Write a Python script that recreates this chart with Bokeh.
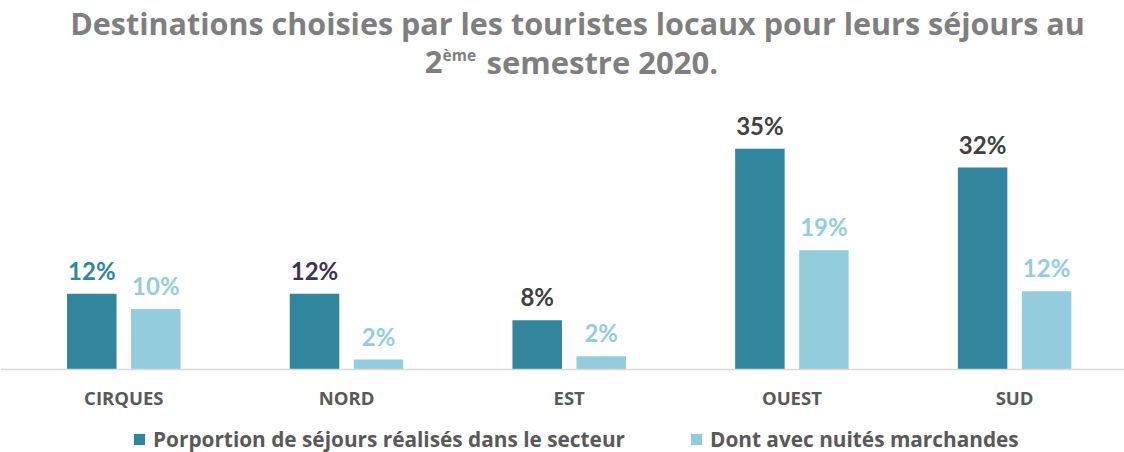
import numpy as np
from bokeh.plotting import figure
from bokeh.models import (Range1d, FixedTicker, Label, Legend, LegendItem, ColumnDataSource)
from bokeh.core.properties import value
from bokeh.embed import file_html
from bokeh.resources import INLINE

categories = ["CIRQUES", "NORD", "EST", "OUEST", "SUD"]
sejours = [12.0, 12.0, 7.8, 35.0, 32.0]
marchandes = [9.6, 1.6, 2.1, 18.9, 12.4]
sejours_label_colors = ["#31859C", "#403152", "#404040", "#404040", "#404040"]
series_names = ["Porportion de séjours réalisés dans le secteur", "Dont avec nuités marchandes"]
title_line1 = "Destinations choisies par les touristes locaux pour leurs séjours au"
title_line2 = ["2", "ème", "semestre 2020."]

DARK = "#31859C"
LIGHT = "#93CDDD"
NUM_FONT = "Lato"
FONT = "Open Sans"

W, H = 1124, 452
base_y = 369          # pixel row of the category axis
px_per_unit = 6.31
cat_w = 222.7
first_center = 123.3
SHIFT = 0.39  # em correction for alphabetic baseline placement

x0 = -first_center / cat_w
x1 = (W - first_center) / cat_w
y0 = -(H - base_y) / px_per_unit
y1 = base_y / px_per_unit

p = figure(width=W, height=H, output_backend="svg", toolbar_location=None,
           x_range=Range1d(x0, x1), y_range=Range1d(y0, y1),
           y_axis_location=None,
           min_border_left=0, min_border_right=0, min_border_top=0,
           min_border_bottom=0)
p.outline_line_color = None
p.xgrid.visible = False
p.ygrid.visible = False

xs = np.arange(len(categories))
off = 32 / cat_w
bw = 49.5 / cat_w

src = ColumnDataSource(dict(
    xd=xs - off, xl=xs + off, d=sejours, l=marchandes,
    dlab=[f"{v:.0f}%" for v in sejours], llab=[f"{v:.0f}%" for v in marchandes],
    dcol=sejours_label_colors))

r1 = p.vbar(x="xd", top="d", width=bw, source=src, fill_color=DARK, line_color=None)
r2 = p.vbar(x="xl", top="l", width=bw, source=src, fill_color=LIGHT, line_color=None)

NUM_SIZE = 24
p.text(x="xd", y="d", text="dlab", source=src, text_color="dcol",
       text_align="center", text_baseline="alphabetic", y_offset=-14 - SHIFT * NUM_SIZE,
       text_font=value(NUM_FONT), text_font_size=f"{NUM_SIZE}px", text_font_style="bold")
p.text(x="xl", y="l", text="llab", source=src, text_color=LIGHT,
       text_align="center", text_baseline="alphabetic", y_offset=-14 - SHIFT * NUM_SIZE,
       text_font=value(NUM_FONT), text_font_size=f"{NUM_SIZE}px", text_font_style="bold")

ax = p.xaxis[0]
ax.fixed_location = 0
ax.ticker = FixedTicker(ticks=list(xs))
ax.major_label_overrides = {int(i): c for i, c in zip(xs, categories)}
ax.major_tick_line_color = None
ax.minor_tick_line_color = None
ax.axis_line_color = "#D9D9D9"
ax.axis_line_width = 1.5
ax.major_label_standoff = 9
ax.major_label_text_font = FONT
ax.major_label_text_font_size = "18.5px"
ax.major_label_text_font_style = "bold"
ax.major_label_text_color = "#595959"

def dx(page_x):
    return (page_x - first_center) / cat_w

def dy(page_y, size):
    return (base_y - (page_y - SHIFT * size)) / px_per_unit

TC = "#7F7F7F"
TS = 30.5
TS2 = 31
SS = 15.5
p.add_layout(Label(x=dx(577), y=dy(34, TS), text=title_line1, text_align="center",
                   text_baseline="alphabetic", text_font=FONT, text_font_size=f"{TS}px",
                   text_font_style="bold", text_color=TC))
p.add_layout(Label(x=dx(442), y=dy(74, TS2), text=title_line2[0], text_align="right",
                   text_baseline="alphabetic", text_font=FONT, text_font_size=f"{TS2}px",
                   text_font_style="bold", text_color=TC))
p.add_layout(Label(x=dx(442), y=dy(61, SS), text=title_line2[1], text_align="left",
                   text_baseline="alphabetic", text_font=FONT, text_font_size=f"{SS}px",
                   text_font_style="bold", text_color=TC))
p.add_layout(Label(x=dx(486), y=dy(74, TS2), text=title_line2[2], text_align="left",
                   text_baseline="alphabetic", text_font=FONT, text_font_size=f"{TS2}px",
                   text_font_style="bold", text_color=TC))

legend = Legend(items=[LegendItem(label=series_names[0], renderers=[r1]),
                       LegendItem(label=series_names[1], renderers=[r2])],
                orientation="horizontal", location=(132, -1),
                label_text_font=FONT, label_text_font_size="20.8px",
                label_text_font_style="bold", label_text_color="#595959",
                glyph_width=14, glyph_height=14, label_standoff=7, spacing=64,
                padding=0, margin=0, border_line_color=None,
                background_fill_alpha=0)
p.add_layout(legend, "center")

open("out.html", "w").write(file_html(p, INLINE))
